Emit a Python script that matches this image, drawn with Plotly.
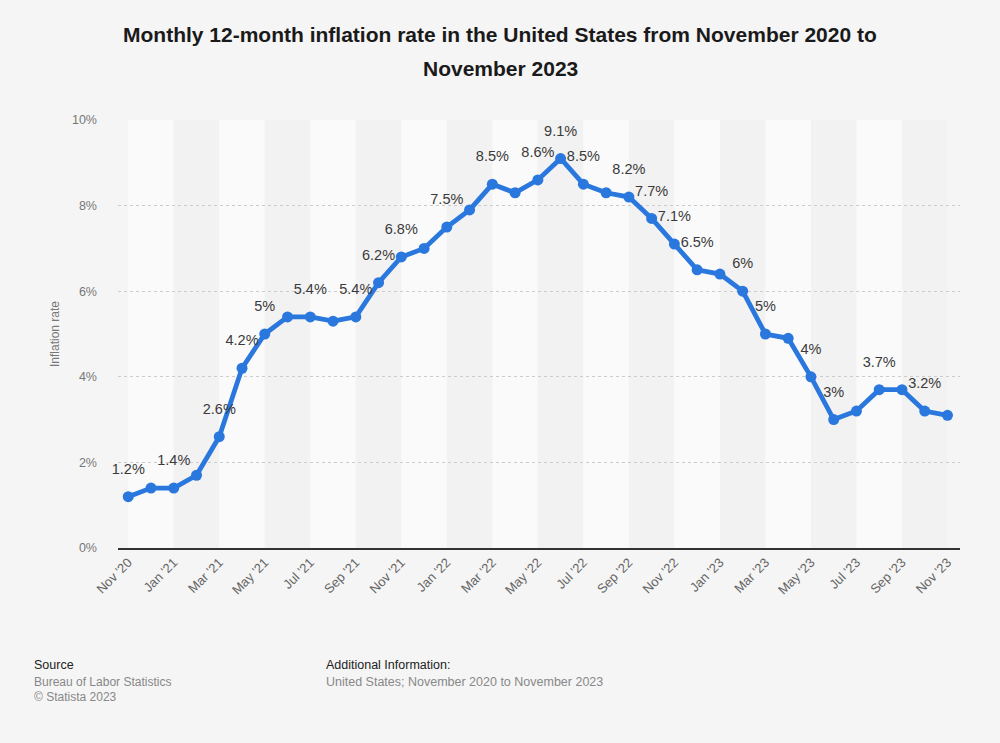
import plotly.graph_objects as go

months = ["Nov '20", "Dec '20", "Jan '21", "Feb '21", "Mar '21", "Apr '21", "May '21", "Jun '21",
          "Jul '21", "Aug '21", "Sep '21", "Oct '21", "Nov '21", "Dec '21", "Jan '22", "Feb '22",
          "Mar '22", "Apr '22", "May '22", "Jun '22", "Jul '22", "Aug '22", "Sep '22", "Oct '22",
          "Nov '22", "Dec '22", "Jan '23", "Feb '23", "Mar '23", "Apr '23", "May '23", "Jun '23",
          "Jul '23", "Aug '23", "Sep '23", "Oct '23", "Nov '23"]
inflation = [1.2, 1.4, 1.4, 1.7, 2.6, 4.2, 5.0, 5.4, 5.4, 5.3, 5.4, 6.2, 6.8, 7.0, 7.5, 7.9,
             8.5, 8.3, 8.6, 9.1, 8.5, 8.3, 8.2, 7.7, 7.1, 6.5, 6.4, 6.0, 5.0, 4.9, 4.0, 3.0,
             3.2, 3.7, 3.7, 3.2, 3.1]
labeled_idx = [0, 2, 4, 5, 6, 8, 10, 11, 12, 14, 16, 18, 19, 20, 22, 23, 24, 25, 27, 28, 30, 31, 33, 35]
y_ticks = [0, 2, 4, 6, 8, 10]

texts = [f"{v:g}%" if i in labeled_idx else "" for i, v in enumerate(inflation)]
font = "Liberation Sans, Arial, sans-serif"
BLUE = "#2a78de"

fig = go.Figure()
fig.add_trace(go.Scatter(
    x=months, y=inflation, mode="lines+markers",
    line=dict(color=BLUE, width=4.8),
    marker=dict(color=BLUE, size=11),
    hoverinfo="x+y", showlegend=False,
))
# data labels (invisible spacer markers push the text further above the points)
fig.add_trace(go.Scatter(
    x=months, y=inflation, mode="markers+text",
    marker=dict(size=29, opacity=0, color=BLUE),
    text=texts, textposition="top center",
    textfont=dict(family=font, size=14.5, color="#3a3a3a"),
    cliponaxis=False, hoverinfo="skip", showlegend=False,
))

shapes = []
for i in range(0, len(months) - 1, 2):
    shapes.append(dict(type="rect", xref="x", yref="paper", x0=i, x1=i + 2, y0=0, y1=1,
                       fillcolor="#fafafa" if (i // 2) % 2 == 0 else "#f2f2f2",
                       line=dict(width=0), layer="below"))

PL, PR, PT, PB = 118, 40, 120, 195
W, H = 1000, 743
ph = H - PT - PB
pw = W - PL - PR

def py(pix):
    return 1 - (pix - PT) / ph

def px(pix):
    return (pix - PL) / pw

ann = [
    dict(text="<b>Monthly 12-month inflation rate in the United States from November 2020 to</b>",
         x=px(500), xref="paper", xanchor="center", y=py(35), yref="paper", yanchor="middle",
         font=dict(size=21, color="#1a1a1a", family=font), showarrow=False),
    dict(text="<b>November 2023</b>",
         x=px(500), xref="paper", xanchor="center", y=py(68), yref="paper", yanchor="middle",
         font=dict(size=21, color="#1a1a1a", family=font), showarrow=False),
    dict(text="Inflation rate", x=px(55), xref="paper", y=py(334), yref="paper",
         textangle=-90, xanchor="center", yanchor="middle", showarrow=False,
         font=dict(size=12, color="#777777", family=font)),
    dict(text="Source", x=px(32), xref="paper", xanchor="left", y=py(665), yref="paper",
         yanchor="middle", showarrow=False, font=dict(size=12.5, color="#222222", family=font)),
    dict(text="Bureau of Labor Statistics", x=px(32), xref="paper", xanchor="left", y=py(682),
         yref="paper", yanchor="middle", showarrow=False, font=dict(size=12, color="#888888", family=font)),
    dict(text="© Statista 2023", x=px(32), xref="paper", xanchor="left", y=py(697),
         yref="paper", yanchor="middle", showarrow=False, font=dict(size=12, color="#888888", family=font)),
    dict(text="Additional Information:", x=px(324), xref="paper", xanchor="left", y=py(665),
         yref="paper", yanchor="middle", showarrow=False, font=dict(size=12.5, color="#222222", family=font)),
    dict(text="United States; November 2020 to November 2023", x=px(324), xref="paper", xanchor="left",
         y=py(682), yref="paper", yanchor="middle", showarrow=False,
         font=dict(size=12.5, color="#888888", family=font)),
]

fig.update_layout(
    width=W, height=H,
    margin=dict(l=PL, r=PR, t=PT, b=PB),
    paper_bgcolor="#f5f5f5", plot_bgcolor="#f5f5f5",
    shapes=shapes, annotations=ann,
    font=dict(family=font),
    xaxis=dict(type="category", range=[-0.45, 36.55], tickvals=months[::2], ticktext=months[::2],
               tickangle=-45, tickfont=dict(size=13, color="#666666"), showgrid=False,
               showline=True, linecolor="#333333", linewidth=1.5, ticks="", zeroline=False),
    yaxis=dict(range=[0, 10], tickvals=y_ticks, ticktext=[f"{t}%" for t in y_ticks],
               tickfont=dict(size=12.5, color="#777777"), showgrid=True, gridcolor="#cccccc",
               griddash="dot", gridwidth=1, zeroline=False, showline=False, ticks="",
               ticklabelstandoff=20),
)

fig.write_html("out.html", config={"displayModeBar": False},
               post_script="document.documentElement.style.background='#f5f5f5';"
                           "document.body.style.margin='0';document.body.style.background='#f5f5f5';")
